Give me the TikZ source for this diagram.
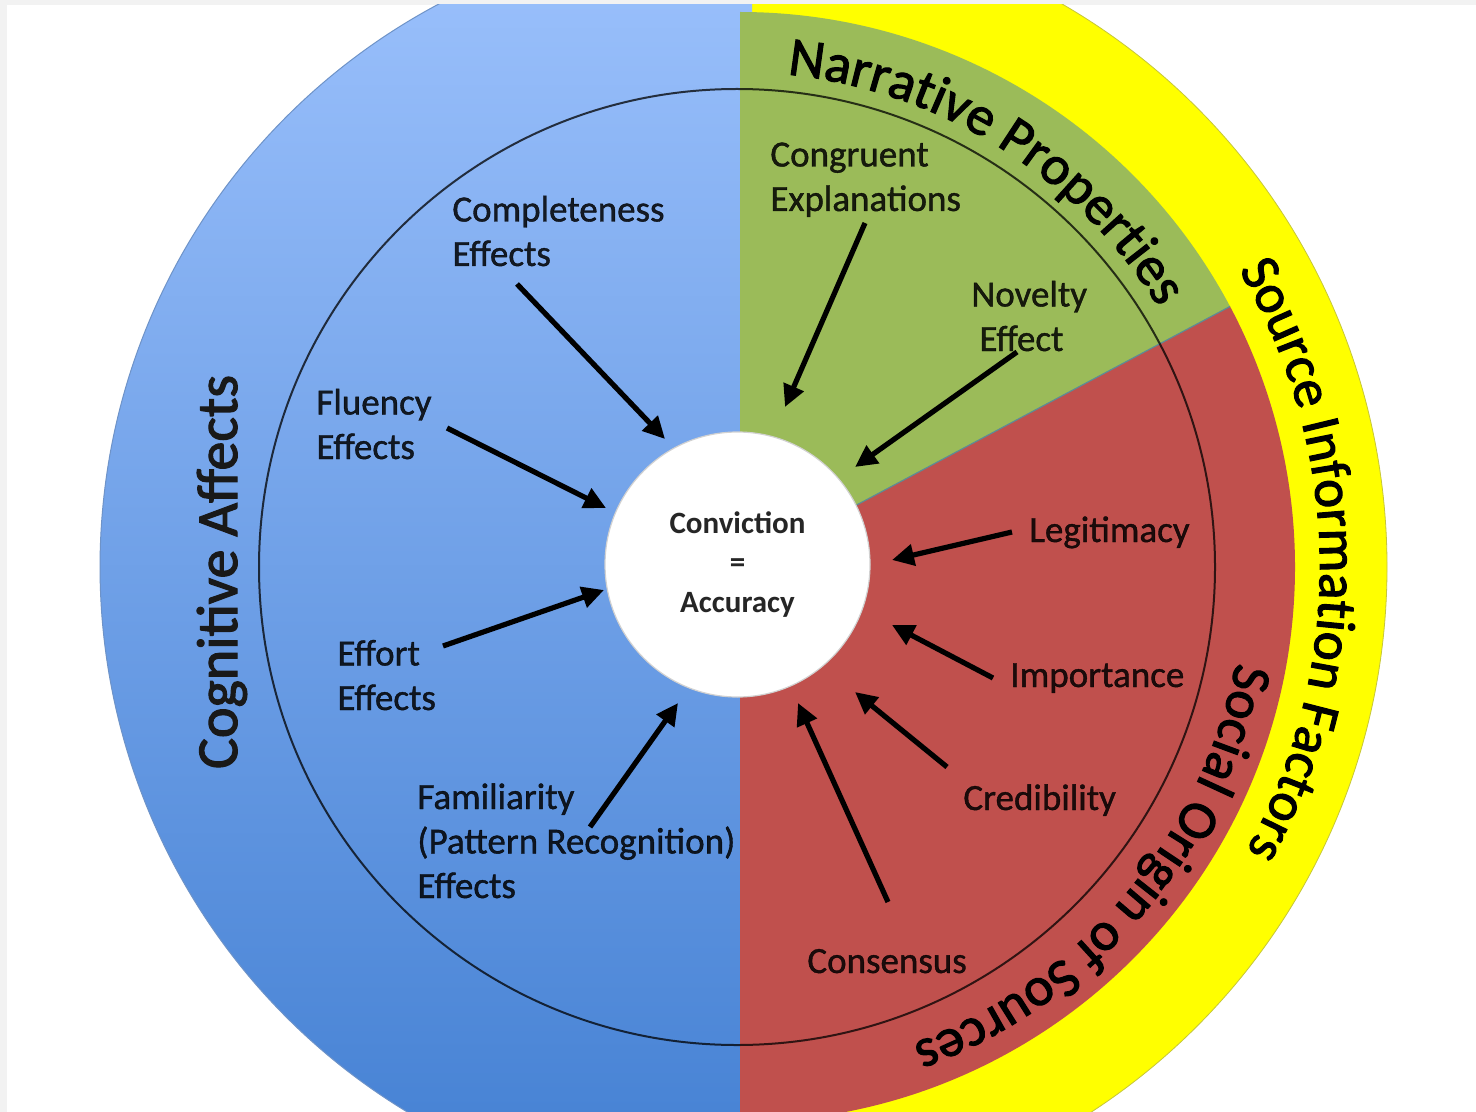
\documentclass[tikz,border=0pt]{standalone}
\usepackage{fontspec}
\setmainfont{Carlito}
\newfontfamily\titlefam{Carlito}[FakeBold=2]
\newfontfamily\labelfam{Carlito}[FakeBold=1]
\usetikzlibrary{arrows.meta,decorations.text}
\definecolor{bgray}{HTML}{F2F2F2}
\definecolor{grn}{HTML}{9BBB59}
\definecolor{rdd}{HTML}{C0504D}
\definecolor{yel}{HTML}{FFFF00}
\definecolor{btop}{HTML}{9DC2FD}
\definecolor{bbot}{HTML}{427FD2}
\definecolor{bedge}{HTML}{6E93C8}
\definecolor{edgeline}{HTML}{5C8C96}
\newcommand\lblfont{\labelfam\fontsize{18.5pt}{22.25pt}\selectfont}
\newcommand\arcfont{\titlefam\fontsize{27.5pt}{33pt}\selectfont}
\begin{document}
\begin{tikzpicture}[x=0.5pt,y=-0.5pt,
  lbl/.style={font=\lblfont, text=black, text opacity=0.85, inner sep=0pt, anchor=base west, align=left},
  arr/.style={line width=2.6pt, -{Triangle[length=11pt,width=10.5pt]}, black},
  arctext/.style={decorate, decoration={text along path, text align=center, text={#1}}}
]
\useasboundingbox (0,0) rectangle (1476,1112);
\fill[bgray] (0,0) rectangle (1476,1112);
\fill[white] (7,5) rectangle (1476,1112);
\coordinate (O) at (737,567);
\coordinate (P) at (740,567);
\begin{scope}
\clip (7,5) rectangle (1476,1112);
\begin{scope}[shift={(O)}, x=1pt, y=1pt]
  % yellow outer band (right half)
  \fill[yel] (90:325pt) arc[start angle=90, end angle=-90, radius=325pt] -- cycle;
  \draw[yel!55!gray, line width=0.4pt] (90:325pt) arc[start angle=90, end angle=-90, radius=325pt];
  % blue left half
  \shade[top color=btop, bottom color=bbot] (88.65:318.5pt) arc[start angle=88.65, end angle=271.35, radius=318.5pt] -- cycle;
  \draw[bedge, line width=0.5pt] (88.65:318.5pt) arc[start angle=88.65, end angle=271.35, radius=318.5pt];
\end{scope}
\begin{scope}[shift={(P)}, x=1pt, y=1pt]
  % green and red sectors
  \fill[grn] (0,0) -- (28:277.5pt) arc[start angle=28, end angle=90, radius=277.5pt] -- cycle;
  \fill[rdd] (0,0) -- (-90:277.5pt) arc[start angle=-90, end angle=28, radius=277.5pt] -- cycle;
  \draw[edgeline, line width=0.6pt] (0,0) -- (28:277.5pt);
\end{scope}
\begin{scope}[shift={(O)}, x=1pt, y=1pt]
  % thin inner ring
  \draw[black, draw opacity=0.75, line width=1pt] (0,0) circle[radius=239pt];
  % curved titles
  \path[arctext={|\arcfont|Narrative Properties}] (97.9:247.5pt) arc[start angle=97.9, end angle=17.9, radius=247.5pt];
  \path[arctext={|\arcfont|Source Information Factors}] (45.75:291.5pt) arc[start angle=45.75, end angle=-44.25, radius=291.5pt];
  \path[arctext={|\arcfont|Social Origin of Sources}] (-0.3:254pt) arc[start angle=-0.3, end angle=-80.3, radius=254pt];
\end{scope}
\end{scope}

% centre
\node[circle, fill=white, draw=black!18, line width=0.6pt, minimum size=132.5pt, inner sep=0pt,
      align=center, font=\bfseries\fontsize{15.5pt}{19.75pt}\selectfont, text=black!85] (C) at (737.5,564.5)
      {Conviction\\=\\Accuracy};

% left title
\node[rotate=90, anchor=base, inner sep=0pt, font=\titlefam\fontsize{29pt}{34pt}\selectfont, text=black!90] (cog) at (237,572) {Cognitive Affects};

% labels (anchor = baseline of the last line)
\node[lbl] (compl) at (452,266) {Completeness\\Effects};
\node[lbl] (flu) at (316,459) {Fluency\\Effects};
\node[lbl] (eff) at (337,710) {Effort\\Effects};
\node[lbl] (fam) at (417,898) {Familiarity\\(Pattern Recognition)\\Effects};
\node[lbl] (cong) at (770,211) {Congruent\\Explanations};
\node[lbl] (nov) at (971,351) {Novelty\\\hspace*{4pt}Effect};
\node[lbl] (legit) at (1029,542) {Legitimacy};
\node[lbl] (imp) at (1010,687) {Importance};
\node[lbl] (cred) at (963,810) {Credibility};
\node[lbl] (cons) at (807,973) {Consensus};

% arrow ends
\coordinate (s1) at (517,284);  \coordinate (t1) at (665,439);
\coordinate (s2) at (447,428);  \coordinate (t2) at (606,508);
\coordinate (s3) at (443,646);  \coordinate (t3) at (604,590);
\coordinate (s4) at (590,827);  \coordinate (t4) at (678,703);
\coordinate (s5) at (865,223);  \coordinate (t5) at (785,407);
\coordinate (s6) at (1017,352); \coordinate (t6) at (855,467);
\coordinate (s7) at (1012,532); \coordinate (t7) at (892,560);
\coordinate (s8) at (993,678);  \coordinate (t8) at (892,625);
\coordinate (s9) at (947,767);  \coordinate (t9) at (855,692);
\coordinate (s10) at (888,902); \coordinate (t10) at (798,703);
\foreach \i in {1,...,10} { \draw[arr] (s\i) -- (t\i); }
\end{tikzpicture}
\end{document}
